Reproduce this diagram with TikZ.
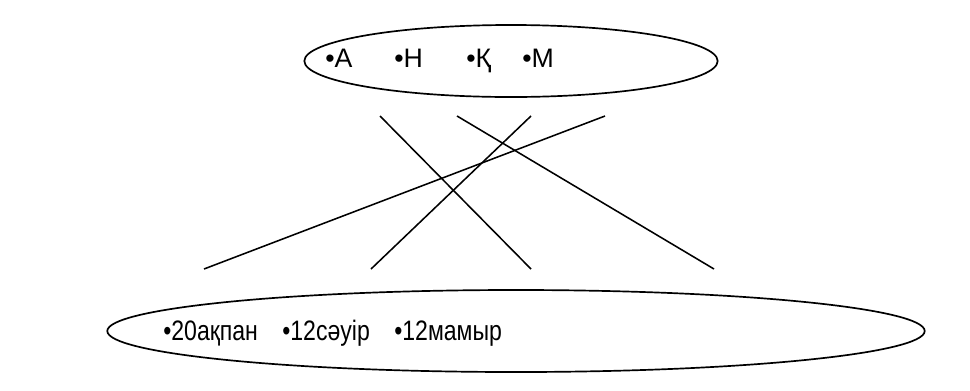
\documentclass[tikz,border=0pt]{standalone}
\usepackage{fontspec}
\setmainfont{Liberation Sans}
\newfontfamily\narrowfont[FakeStretch=0.82]{Liberation Sans}
\usetikzlibrary{shapes.geometric}

\tikzset{
  oval/.style={draw, ellipse, line width=1.2pt, inner sep=0pt},
  letter/.style={anchor=base west, inner sep=0pt, font=\fontsize{19pt}{22pt}\selectfont},
  date/.style={anchor=base west, inner sep=0pt, font=\narrowfont\fontsize{20pt}{23pt}\selectfont},
  link/.style={line width=1.1pt}
}

\begin{document}
\begin{tikzpicture}[x=0.025cm,y=-0.025cm]
  \useasboundingbox (0,0) rectangle (970,390);
  \node[oval, minimum width=10.33cm, minimum height=1.8cm] (letters) at (511,61) {};
  \node[letter] (la) at (325,67) {•А};
  \node[letter] (lh) at (394,67) {•Н};
  \node[letter] (lk) at (466,67) {•Қ};
  \node[letter] (lm) at (522,67) {•М};

  \node[oval, minimum width=20.43cm, minimum height=2.05cm] (dates) at (516,331) {};
  \node[date] (feb) at (163,340) {•20ақпан};
  \node[date] (apr) at (282,340) {•12сәуір};
  \node[date] (may) at (394,340) {•12мамыр};

  \coordinate (ta) at (380,116);
  \coordinate (th) at (457,116);
  \coordinate (tk) at (531,116);
  \coordinate (tm) at (605,116);
  \coordinate (b1) at (204,269);
  \coordinate (b2) at (371,269);
  \coordinate (b3) at (531,269);
  \coordinate (b4) at (714,269);
  \draw[link] (ta) -- (b3);
  \draw[link] (th) -- (b4);
  \draw[link] (tk) -- (b2);
  \draw[link] (tm) -- (b1);
\end{tikzpicture}
\end{document}
